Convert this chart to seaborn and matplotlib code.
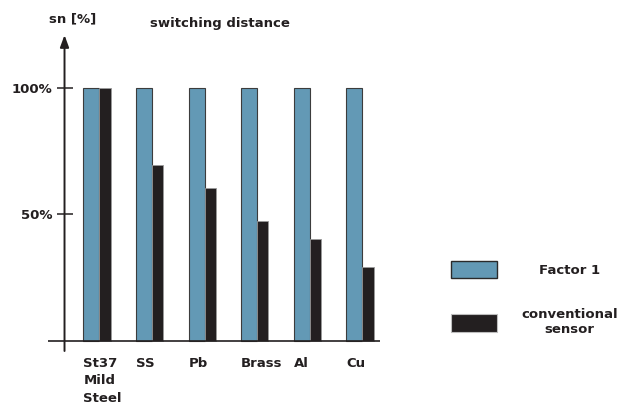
import matplotlib
matplotlib.use("Agg")
import matplotlib.pyplot as plt
from matplotlib.patches import Patch
import seaborn as sns
import pandas as pd

categories = ["St37\nMild\nSteel", "SS", "Pb", "Brass", "Al", "Cu"]
factor1 = [100, 100, 100, 100, 100, 100]
conventional = [100, 69.4, 60.4, 47.4, 40.3, 29.3]
ytick_vals = [50, 100]
ytick_labels = ["50%", "100%"]
series_names = ["Factor 1", "conventional\nsensor"]

BLUE = "#6399b5"
DARK = "#231f20"
WB = 0.305
WK = 0.21

sns.set_theme(style="white")
plt.rcParams["font.family"] = ["DejaVu Sans"]
plt.rcParams["font.weight"] = "bold"
FS = 9.5

df = pd.DataFrame({"material": categories, "f1": factor1, "conv": conventional})

fig = plt.figure(figsize=(6.17, 4.08), dpi=100)
ax = fig.add_axes([48 / 617, (408 - 351) / 408, 332 / 617, 321 / 408])

n0 = len(ax.patches)
sns.barplot(data=df, x="material", y="f1", color=BLUE, width=WB, saturation=1,
            edgecolor="#3c3c3c", linewidth=0.8, ax=ax)
for p in ax.patches[n0:]:
    p.set_x(p.get_x() - WB / 2)
n1 = len(ax.patches)
sns.barplot(data=df, x="material", y="conv", color=DARK, width=WK, saturation=1,
            edgecolor="#9a9a9a", linewidth=0.6, ax=ax)
for p in ax.patches[n1:]:
    p.set_x(p.get_x() + WK / 2)

AXX = -0.665
ax.set_xlim(-0.979, 5.333)
ax.set_ylim(-3.95, 122.8)
for s in ax.spines.values():
    s.set_visible(False)
ax.spines["left"].set_position(("data", AXX))

ax.axhline(0, color=DARK, lw=1.2, zorder=3)
ax.annotate("", xy=(AXX, 120.8), xytext=(AXX, -3.95),
            arrowprops=dict(arrowstyle="-|>,head_length=0.6,head_width=0.22",
                            color=DARK, lw=1.4, shrinkA=0, shrinkB=0))

ax.set_yticks(ytick_vals)
ax.set_yticklabels(ytick_labels, fontsize=FS, fontweight="bold", color=DARK)
ax.tick_params(axis="y", direction="inout", length=11, width=1.1, color=DARK, pad=3, left=True)

ax.set_xticks([i - WB for i in range(len(categories))])
ax.set_xticklabels(categories, fontsize=FS, fontweight="bold", color=DARK,
                   ha="left", va="top", linespacing=1.42)
ax.tick_params(axis="x", length=0, pad=4.5)
ax.set_xlabel("")
ax.set_ylabel("")

fig.text(73 / 617, 1 - 19 / 408, "sn [%]", ha="center", va="center",
         fontsize=FS, fontweight="bold", color=DARK)
fig.text(220 / 617, 1 - 23 / 408, "switching distance", ha="center", va="center",
         fontsize=FS, fontweight="bold", color=DARK)

handles = [Patch(facecolor=BLUE, edgecolor="#2a2a2a", linewidth=1.0),
           Patch(facecolor=DARK, edgecolor="#bdbdbd", linewidth=0.8)]
leg = fig.legend(handles, series_names, loc="upper left",
                 bbox_to_anchor=(451 / 617, 1 - 261 / 408), frameon=False,
                 fontsize=FS, handlelength=3.5, handleheight=1.66,
                 handletextpad=1.8, labelspacing=2.25, borderpad=0, borderaxespad=0)
for t in leg.get_texts():
    t.set_fontweight("bold")
    t.set_color(DARK)
    t.set_multialignment("center")

fig.canvas.draw()
r = fig.canvas.get_renderer()
texts = leg.get_texts()
w0 = texts[0].get_window_extent(r).width
w1 = texts[1].get_window_extent(r).width
texts[0].set_x((w1 - w0) / 2)

fig.savefig("out.png", dpi=100)
